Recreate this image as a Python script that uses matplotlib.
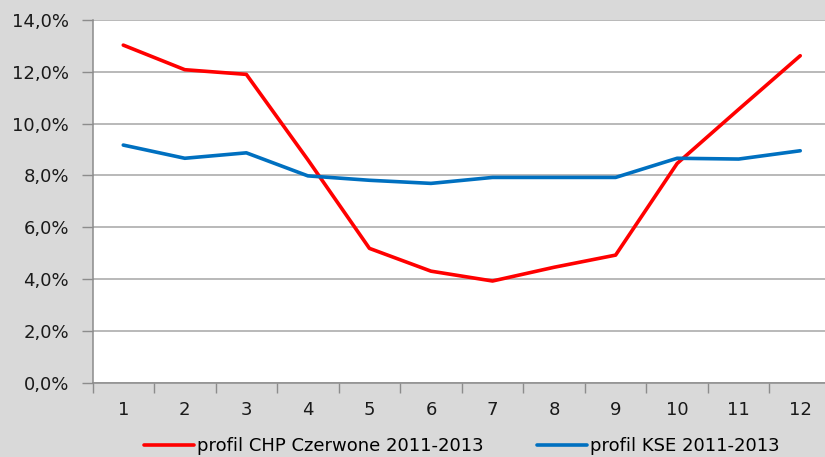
import matplotlib.pyplot as plt
from matplotlib.ticker import FuncFormatter, MultipleLocator

months = [1, 2, 3, 4, 5, 6, 7, 8, 9, 10, 11, 12]
chp = [13.03, 12.08, 11.9, 8.6, 5.18, 4.3, 3.92, 4.45, 4.92, 8.46, 10.55, 12.62]
kse = [9.17, 8.66, 8.87, 7.98, 7.81, 7.69, 7.92, 7.92, 7.92, 8.66, 8.63, 8.95]
chp_label = 'profil CHP Czerwone 2011-2013'
kse_label = 'profil KSE 2011-2013'

plt.rcParams['font.family'] = ['DejaVu Sans']
fs = 13

W, H = 825, 457
fig = plt.figure(figsize=(W / 100, H / 100), dpi=100, facecolor='#d9d9d9')
# plot area in pixels: left 92.5, right 831 (runs past the edge), top 20, bottom 382.5
ax = fig.add_axes([92.5 / W, 1 - 382.5 / H, (831 - 92.5) / W, (382.5 - 20) / H])
ax.set_facecolor('white')

ax.plot(months, chp, color='#ff0000', lw=2.6, solid_capstyle='round', label=chp_label, zorder=3)
ax.plot(months, kse, color='#0070c0', lw=2.6, solid_capstyle='round', label=kse_label, zorder=3)

ax.set_xlim(0.5, 12.5)
ax.set_ylim(0, 14)
ax.yaxis.set_major_locator(MultipleLocator(2))
ax.yaxis.set_major_formatter(FuncFormatter(lambda v, p: f'{v:.1f}%'.replace('.', ',')))
ax.set_xticks(months)
ax.set_xticks([m + 0.5 for m in range(0, 13)], minor=True)
ax.tick_params(axis='x', which='major', length=0, pad=13, labelsize=fs, colors='#1a1a1a')
ax.tick_params(axis='x', which='minor', length=7, color='#8c8c8c', width=1)
ax.tick_params(axis='y', length=8, width=1, pad=9, labelsize=fs, colors='#1a1a1a')
ax.tick_params(axis='y', color='#8c8c8c')

ax.grid(axis='y', color='#a6a6a6', lw=1.1, zorder=0)
for s in ['top', 'right']:
    ax.spines[s].set_visible(False)
for s in ['left', 'bottom']:
    ax.spines[s].set_color('#8c8c8c')
    ax.spines[s].set_linewidth(1.1)

fig.legend(loc='center left', bbox_to_anchor=(128 / W, 11 / H), ncol=2, frameon=False,
           fontsize=fs, handlelength=2.75, handletextpad=0.15, columnspacing=3.0)

fig.savefig('out.png', dpi=100, facecolor=fig.get_facecolor())
